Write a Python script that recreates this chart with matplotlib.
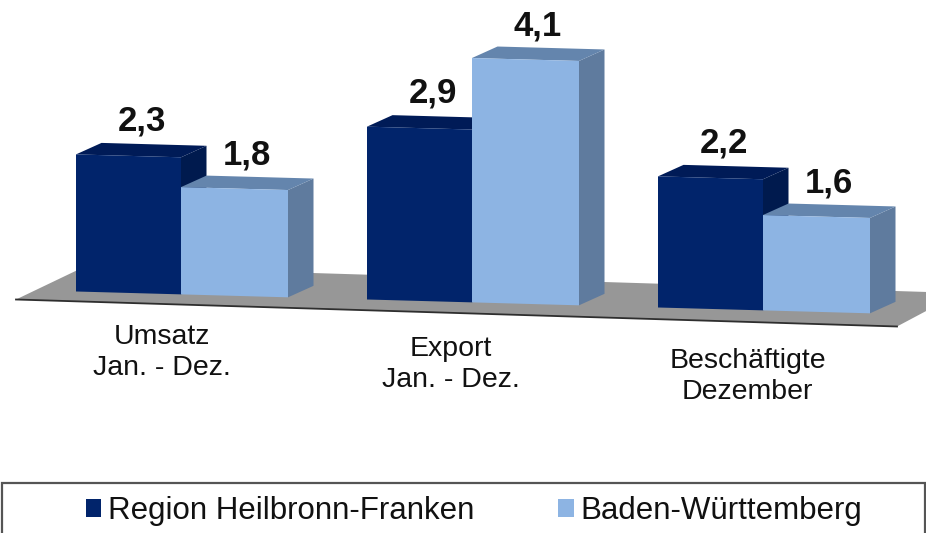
import matplotlib
matplotlib.use("Agg")
import matplotlib.pyplot as plt
from matplotlib.patches import Patch, Polygon, Rectangle
from matplotlib.transforms import Affine2D

plt.rcParams['font.family'] = ['Liberation Sans', 'DejaVu Sans']

categorias = ["Umsatz\nJan. - Dez.", "Export\nJan. - Dez.", "Beschäftigte\nDezember"]
region = [2.3, 2.9, 2.2]
bw = [1.8, 4.1, 1.6]
rotulos_region = ["2,3", "2,9", "2,2"]
rotulos_bw = ["1,8", "4,1", "1,6"]
nomes = ["Region Heilbronn-Franken", "Baden-Württemberg"]

W, H = 926, 533
ESC_X = 291.0   # px por categoria
ESC_Y = 59.6    # px por unidade
X0 = 181.0
Y0 = 243.6
INCL = 0.0275

fig = plt.figure(figsize=(W / 100, H / 100), dpi=100, facecolor='white')

# camada de fundo em pixels: chao e moldura da legenda
fundo = fig.add_axes([0, 0, 1, 1], zorder=0)
fundo.set_xlim(0, W)
fundo.set_ylim(H, 0)
fundo.axis('off')
fundo.add_patch(Polygon([(16, 299.5), (86, 266), (960, 293), (897, 326.5)], closed=True,
                        facecolor='#979797', edgecolor='none'))
fundo.plot([16, 897], [299.5, 326.5], color='#2e2e2e', lw=1.3)
fundo.add_patch(Rectangle((1.5, 483), W - 3, 70, facecolor='white', edgecolor='#555555', lw=1.6))

ax = fig.add_axes([0, 0, 1, 1], zorder=1)
ax.axis('off')
ax.set_xlim(-X0 / ESC_X, (W - X0) / ESC_X)
ax.set_ylim(-Y0 / ESC_Y, (H - Y0) / ESC_Y)

# inclina tudo para baixo a direita, como no grafico 3D
incl = Affine2D.from_values(1, -INCL, 0, 1, 0, 0)
trans = ax.transData + incl

larg_region = 105 / ESC_X
larg_bw = 107 / ESC_X
dx = 25.5 / ESC_X
dy = (11.5 + INCL * 25.5) / ESC_Y
desl_cat = [(-14, -21.5), (-15, -24), (-11, -27)]


def barra(x, larg, valor, frente, topo, lado, z):
    # lado e topo primeiro, a frente por cima
    ax.add_patch(Polygon([(x + larg, 0), (x + larg + dx, dy), (x + larg + dx, valor + dy), (x + larg, valor)],
                         closed=True, facecolor=lado, edgecolor='none', transform=trans, zorder=z))
    ax.add_patch(Polygon([(x, valor), (x + dx, valor + dy), (x + larg + dx, valor + dy), (x + larg, valor)],
                         closed=True, facecolor=topo, edgecolor='none', transform=trans, zorder=z))
    b = ax.bar(x, valor, width=larg, align='edge', color=frente, linewidth=0, zorder=z + 0.5)
    b[0].set_transform(trans)


for i in range(len(categorias)):
    barra(i - larg_region, larg_region, region[i], '#01246b', '#001b57', '#001a4e', 2 + i)
    barra(i, larg_bw, bw[i], '#8db4e3', '#6485ad', '#5f7b9e', 2.6 + i)

    ax.annotate(rotulos_region[i], xy=(i - larg_region / 2, region[i]), xycoords=trans,
                xytext=(10, 25), textcoords='offset points', ha='center', va='center',
                fontsize=25, fontweight='bold', color='#111111', zorder=10)
    ax.annotate(rotulos_bw[i], xy=(i + larg_bw / 2, bw[i]), xycoords=trans,
                xytext=(9, 24), textcoords='offset points', ha='center', va='center',
                fontsize=25, fontweight='bold', color='#111111', zorder=10)
    ax.annotate(categorias[i], xy=(i, 0), xycoords=trans,
                xytext=desl_cat[i], textcoords='offset points', ha='center', va='top',
                fontsize=20.5, color='#111111', linespacing=1.25, zorder=10)

handles = [Patch(facecolor='#01246b', edgecolor='none'), Patch(facecolor='#8db4e3', edgecolor='none')]
leg = ax.legend(handles, nomes, ncols=2, frameon=False, loc='center left',
                bbox_to_anchor=(70 / W, 1 - 511 / H), fontsize=22.5,
                handlelength=0.5, handleheight=0.5, handletextpad=0.2, columnspacing=2.7, borderpad=0,
                labelcolor='#111111')

fig.savefig("out.png", dpi=100)
